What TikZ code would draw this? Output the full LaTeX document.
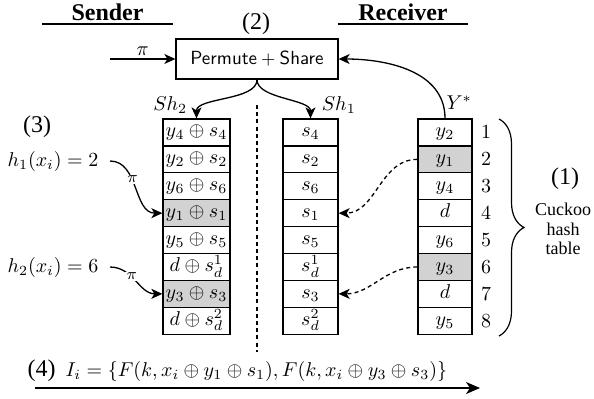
\documentclass[tikz,border=0pt]{standalone}
\usepackage[no-math]{fontspec}
\setmainfont{Liberation Serif}
\usetikzlibrary{arrows.meta,decorations.pathreplacing}
\begin{document}
\begin{tikzpicture}[x=0.5pt,y=0.5pt, font=\fontsize{10}{12}\selectfont, line width=0.65pt,
  arr/.style={-{Stealth[length=5.5pt,width=5pt,inset=1.5pt]}},
  bigarr/.style={-{Stealth[length=7pt,width=6pt,inset=2pt]}},
  darr/.style={arr, dash pattern=on 2pt off 1.6pt},
  cell/.style={draw, inner sep=0pt, minimum height=13.45pt, text height=7pt, text depth=2.5pt},
  cellA/.style={cell, minimum width=33.5pt},
  cellB/.style={cell, minimum width=27.5pt},
  cellC/.style={cell, minimum width=27pt},
  hdr/.style={font=\bfseries\fontsize{12}{14}\selectfont, anchor=south, inner xsep=0pt, inner ysep=1.5pt, minimum width=64.5pt, text depth=0pt},
  lbl/.style={font=\fontsize{12}{14}\selectfont},
  hlab/.style={anchor=east, inner xsep=5.5pt},
  pilab/.style={fill=white, inner sep=0.6pt, font=\fontsize{8.5}{10}\selectfont}
]
\useasboundingbox (0,0) rectangle (594,-398);

% headers
\node[hdr] (sender) at (107.5,-24) {Sender};
\draw (sender.south west) -- (sender.south east);
\node[hdr] (receiver) at (403,-24) {Receiver};
\draw (receiver.south west) -- (receiver.south east);

% labels
\node[lbl] (l2) at (256,-24) {(2)};
\node[lbl] (l3) at (37,-127) {(3)};
\node[lbl] (l1) at (565,-179) {(1)};
\node[align=center, font=\fontsize{9}{9.6}\selectfont] (cht) at (563,-229) {Cuckoo\\hash\\table};

% permute box
\node[draw, minimum width=81pt, minimum height=20pt, inner sep=0pt, font=\fontsize{9.5}{11}\selectfont\sffamily] (perm) at (257,-59) {Permute${}+{}$Share};

% cells
\foreach \i/\ta/\tb/\tc/\fa/\fc in {
  1/{$y_4\oplus s_4$}/{$s_4$}/{$y_2$}/white/white,
  2/{$y_2\oplus s_2$}/{$s_2$}/{$y_1$}/white/gray!35,
  3/{$y_6\oplus s_6$}/{$s_6$}/{$y_4$}/white/white,
  4/{$y_1\oplus s_1$}/{$s_1$}/{$d$}/gray!35/white,
  5/{$y_5\oplus s_5$}/{$s_5$}/{$y_6$}/white/white,
  6/{$d\oplus s_d^1$}/{$s_d^1$}/{$y_3$}/white/gray!35,
  7/{$y_3\oplus s_3$}/{$s_3$}/{$d$}/gray!35/white,
  8/{$d\oplus s_d^2$}/{$s_d^2$}/{$y_5$}/white/white}{
  \node[cellA, fill=\fa] (a\i) at (196.5,{-(119+26.9*(\i-0.5))}) {\ta};
  \node[cellB] (b\i) at (310.5,{-(119+26.9*(\i-0.5))}) {\tb};
  \node[cellC, fill=\fc] (c\i) at (445,{-(119+26.9*(\i-0.5))}) {\tc};
  \node (n\i) at (486,{-(119+26.9*(\i-0.5))}) {$\i$};
}

% brace
\coordinate (brt) at (499,-119);
\coordinate (brb) at (499,-336);
\draw[line width=0.6pt, decorate, decoration={brace, amplitude=12.5pt}] (brt) -- (brb);

% pi input
\coordinate (pin) at (110,-59);
\draw[arr] (pin) -- node[above, inner sep=1.5pt]{$\pi$} (perm.west);

% Y* arrow
\draw[arr] (c1.north) to[out=90,in=0] node[pos=0, anchor=base west, xshift=0.5pt, yshift=4.5pt, inner sep=0pt]{$Y^*$} (perm.east);

% share arrows
\draw[arr] (perm.south) to[out=-90,in=90,looseness=0.75] node[pos=1, anchor=south east, xshift=-1pt, yshift=-1pt]{$Sh_2$} (a1.north);
\draw[arr] (perm.south) to[out=-90,in=90,looseness=0.75] node[pos=1, anchor=south west, xshift=2pt, yshift=-1pt]{$Sh_1$} (b1.north);

% dashed separator
\coordinate (dtop) at (257,-105);
\coordinate (dbot) at (257,-352);
\draw[dash pattern=on 2pt off 1.6pt] (dtop) -- (dbot);

% dashed arrows
\draw[darr] (c2.west) to[out=180,in=0] (b4.east);
\draw[darr] (c6.west) to[out=180,in=0] (b7.east);

% hash labels
\node[hlab] (h1) at (110,-161) {$h_1(x_i) = 2$};
\node[hlab] (h2) at (110,-267) {$h_2(x_i) = 6$};
\draw[arr] (h1.east) to[out=0,in=180] node[pilab, pos=0.4]{$\pi$} (a4.west);
\draw[arr] (h2.east) to[out=0,in=180] node[pilab, pos=0.4]{$\pi$} (a7.west);

% output
\node[anchor=west, inner sep=0pt] (l4) at (27,-371) {{\fontsize{12}{14}\selectfont (4)}\hspace{5pt}$I_i = \{F(k, x_i \oplus y_1 \oplus s_1), F(k, x_i \oplus y_3 \oplus s_3)\}$};
\coordinate (a4s) at (35,-388);
\coordinate (a4e) at (480,-388);
\draw[bigarr] (a4s) -- (a4e);
\end{tikzpicture}
\end{document}
